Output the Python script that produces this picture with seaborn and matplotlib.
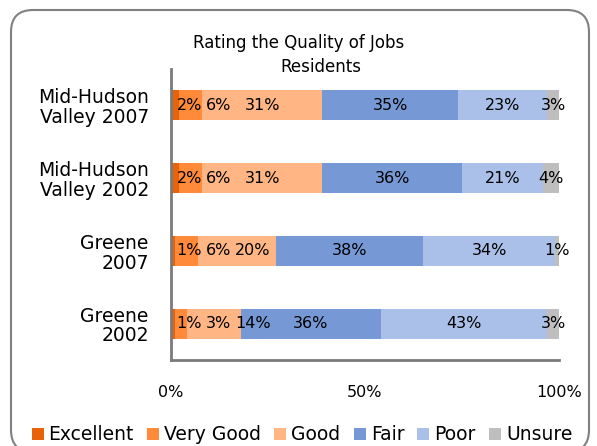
import numpy as np
import pandas as pd
import matplotlib
matplotlib.use("Agg")
import matplotlib.pyplot as plt
import seaborn as sns
from matplotlib.patches import FancyBboxPatch

# Data
groups = ["Mid-Hudson\nValley 2007", "Mid-Hudson\nValley 2002", "Greene\n2007", "Greene\n2002"]
ratings = ["Excellent", "Very Good", "Good", "Fair", "Poor", "Unsure"]
excellent = [2, 2, 1, 1]
very_good = [6, 6, 6, 3]
good = [31, 31, 20, 14]
fair = [35, 36, 38, 36]
poor = [23, 21, 34, 43]
unsure = [3, 4, 1, 3]
tick_vals = [0, 50, 100]
tick_labels = ["0%", "50%", "100%"]

colors = ["#E8620A", "#FF8A3A", "#FFB684", "#7699D6", "#AAC0E8", "#BEBEBE"]

values = np.array([excellent, very_good, good, fair, poor, unsure], dtype=float)
cum = np.cumsum(values, axis=0)

sns.set_style("white")
plt.rcParams["font.family"] = ["DejaVu Sans"]
plt.rcParams["text.color"] = "black"
plt.rcParams["xtick.color"] = "black"
plt.rcParams["ytick.color"] = "black"

fig = plt.figure(figsize=(5.97, 4.46), dpi=100)
ax = fig.add_axes([171 / 597, 1 - 360 / 446, 388 / 597, 291 / 446])

# stacked bars: draw cumulative totals from the right-most segment down
for i in range(len(ratings) - 1, -1, -1):
    df = pd.DataFrame({"group": groups, "total": cum[i]})
    sns.barplot(data=df, x="total", y="group", orient="h", color=colors[i],
                saturation=1, width=0.41, label=ratings[i], ax=ax, linewidth=0)

ax.set_xlim(0, 100)
ax.set_ylim(3.5, -0.5)
ax.set_xticks(tick_vals)
ax.set_xticklabels(tick_labels)
ax.set_xlabel("")
ax.set_ylabel("")
ax.tick_params(axis="x", length=0, labelsize=11.5, pad=18, labelcolor="black")
ax.tick_params(axis="y", length=0, labelsize=13.5, pad=16, labelcolor="black")
for lbl in ax.get_yticklabels():
    lbl.set_multialignment("right")
    lbl.set_linespacing(1.05)
for side in ["top", "right"]:
    ax.spines[side].set_visible(False)
for side in ["left", "bottom"]:
    ax.spines[side].set_color("#7a7a7a")
    ax.spines[side].set_linewidth(2)

# data labels, nudged right so small segments do not overlap
fs = 11.5
px_per_unit = 388 / 100
fs_px = fs * 100 / 72
gap = 1.0
for r in range(len(groups)):
    prev_c, prev_w = None, None
    for i in range(len(ratings)):
        v = values[i, r]
        s = f"{int(v)}%"
        w = (0.636 * (len(s) - 1) + 0.95) * fs_px / px_per_unit
        c = cum[i, r] - v / 2
        if prev_c is None:
            c = max(c, w / 2 + 1.5)
        else:
            c = max(c, prev_c + (prev_w + w) / 2 + gap)
        ax.text(c, r, s, ha="center", va="center", fontsize=fs, color="black", clip_on=False)
        prev_c, prev_w = c, w

# title
fig.text(193 / 597, 1 - 48 / 446, "Rating the Quality of Jobs", ha="left", va="baseline",
         fontsize=12, color="black")
fig.text(280 / 597, 1 - 72 / 446, "Residents", ha="left", va="baseline",
         fontsize=12, color="black")

# legend
handles, labels = ax.get_legend_handles_labels()
handles, labels = handles[::-1], labels[::-1]
if ax.get_legend() is not None:
    ax.get_legend().remove()
fig.legend(handles, labels, loc="center", bbox_to_anchor=(302 / 597, 1 - 435 / 446),
           ncol=6, frameon=False, fontsize=13.5, handlelength=0.64, handleheight=0.64,
           handletextpad=0.27, columnspacing=0.7, borderaxespad=0, borderpad=0,
           labelcolor="black")

# rounded border
border = FancyBboxPatch((0.11, -0.06), 5.78, 4.42, boxstyle="round,pad=0,rounding_size=0.22",
                        transform=fig.dpi_scale_trans, facecolor="none", edgecolor="#808080",
                        linewidth=1.5)
fig.add_artist(border)

fig.savefig("out.png", dpi=100)
